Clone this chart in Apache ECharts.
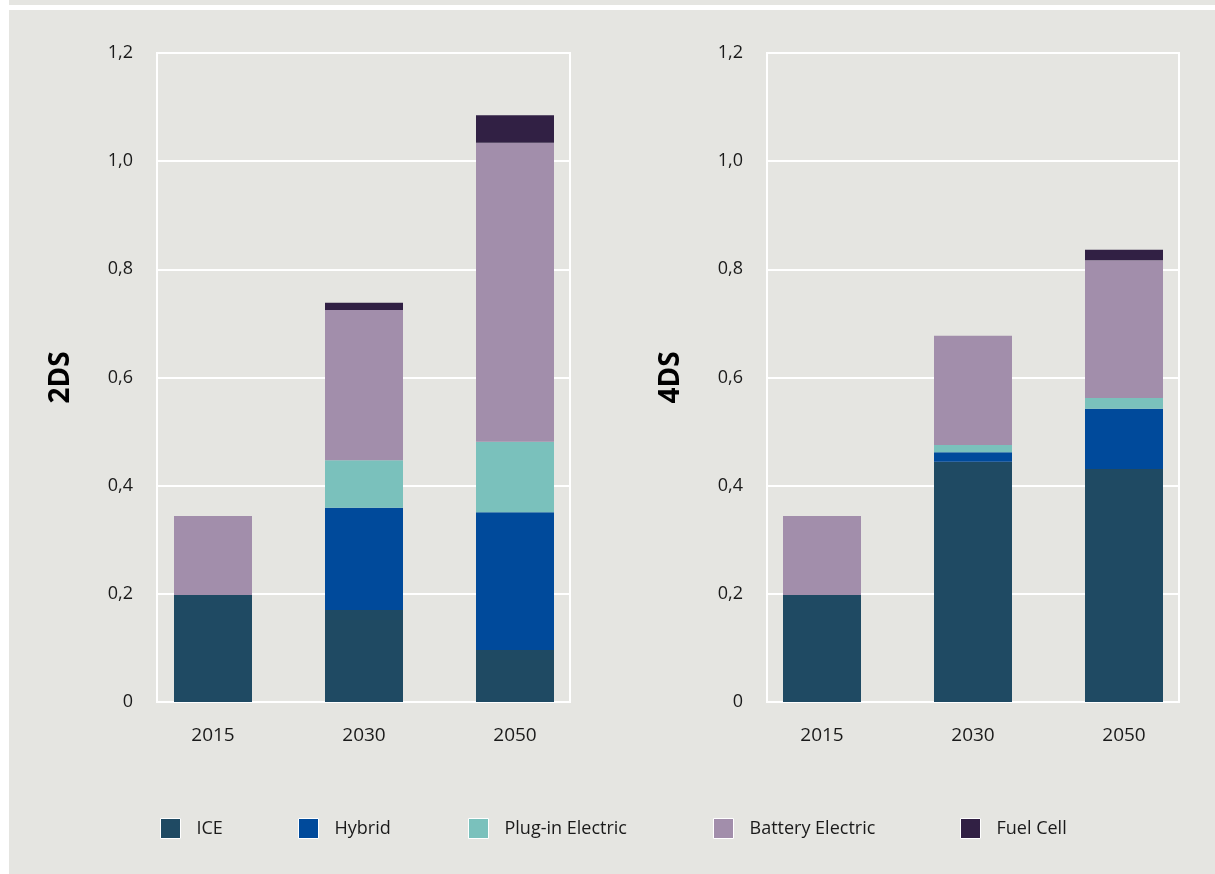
<!DOCTYPE html>
<html>
<head>
<meta charset="utf-8">
<script src="https://cdn.jsdelivr.net/npm/echarts@6/dist/echarts.min.js"></script>
<style>
  html, body { margin: 0; padding: 0; background: #fff; }
  #main { width: 1215px; height: 874px; }
</style>
</head>
<body>
<div id="main"></div>
<script>
var years = ['2015', '2030', '2050'];

// 2DS scenario
var ice2DS = [0.198, 0.170, 0.096];
var hybrid2DS = [0, 0.189, 0.255];
var plugin2DS = [0, 0.088, 0.130];
var battery2DS = [0.146, 0.278, 0.553];
var fuel2DS = [0, 0.013, 0.051];

// 4DS scenario
var ice4DS = [0.198, 0.444, 0.431];
var hybrid4DS = [0, 0.018, 0.111];
var plugin4DS = [0, 0.013, 0.020];
var battery4DS = [0.146, 0.202, 0.255];
var fuel4DS = [0, 0, 0.019];

var names = ['ICE', 'Hybrid', 'Plug-in Electric', 'Battery Electric', 'Fuel Cell'];
var colors = ['#1f4a63', '#004a9b', '#7ac1bc', '#a28eab', '#312044'];
var legendLeft = [155, 293, 463, 708, 955];

var font = '"Open Sans", sans-serif';
var textColor = '#1a1a1a';

var chart = echarts.init(document.getElementById('main'));

function fmt(v) {
  if (v === 0) return '0';
  return v.toFixed(1).replace('.', ',');
}

// frame grid + bar grid per panel
var grids = [
  { left: 157, width: 413, top: 53, bottom: 172, show: true, borderColor: '#fff', borderWidth: 2, backgroundColor: 'transparent' },
  { left: 137.5, width: 453, top: 53, bottom: 172 },
  { left: 767, width: 412, top: 53, bottom: 172, show: true, borderColor: '#fff', borderWidth: 2, backgroundColor: 'transparent' },
  { left: 746.5, width: 453, top: 53, bottom: 172 }
];

function frameX(i) {
  return { gridIndex: i, type: 'value', show: false, min: 0, max: 1 };
}
function barX(i) {
  return {
    gridIndex: i, type: 'category', data: years,
    axisLine: { show: false }, axisTick: { show: false },
    axisLabel: { margin: 24, color: textColor, fontSize: 19, fontFamily: font }
  };
}
function frameY(i, name) {
  return {
    gridIndex: i, type: 'value', min: 0, max: 1.2, interval: 0.2,
    name: name, nameLocation: 'middle', nameGap: 82, nameRotate: 90,
    nameTextStyle: { color: '#000', fontSize: 28, fontWeight: 'bold', fontFamily: font },
    axisLine: { show: false }, axisTick: { show: false },
    splitLine: { lineStyle: { color: '#fff', width: 2 } },
    axisLabel: { margin: 24, color: textColor, fontSize: 18, fontFamily: font, formatter: fmt }
  };
}
function barY(i) {
  return { gridIndex: i, type: 'value', min: 0, max: 1.2, show: false, splitLine: { show: false } };
}

function makeSeries(data, axisIdx, stack) {
  var out = [];
  for (var i = 0; i < data.length; i++) {
    out.push({
      name: names[i],
      type: 'bar',
      stack: stack,
      xAxisIndex: axisIdx,
      yAxisIndex: axisIdx,
      barWidth: 78,
      itemStyle: { color: colors[i] },
      data: data[i]
    });
  }
  return out;
}

var series = makeSeries([ice2DS, hybrid2DS, plugin2DS, battery2DS, fuel2DS], 1, 'a')
  .concat(makeSeries([ice4DS, hybrid4DS, plugin4DS, battery4DS, fuel4DS], 3, 'b'));

var legends = [];
for (var k = 0; k < names.length; k++) {
  legends.push({
    data: [names[k]],
    left: legendLeft[k],
    top: 813,
    itemWidth: 20,
    itemHeight: 20,
    icon: 'rect',
    itemStyle: { borderColor: '#fff', borderWidth: 1 },
    textStyle: { color: textColor, fontSize: 18, fontFamily: font, padding: [0, 0, 0, 11] }
  });
}

var option = {
  animation: false,
  backgroundColor: '#e5e5e1',
  graphic: [
    { type: 'rect', left: 0, top: 0, shape: { width: 9, height: 874 }, style: { fill: '#fff' } },
    { type: 'rect', left: 0, top: 5, shape: { width: 1215, height: 5 }, style: { fill: '#fff' } }
  ],
  grid: grids,
  xAxis: [frameX(0), barX(1), frameX(2), barX(3)],
  yAxis: [frameY(0, '2DS'), barY(1), frameY(2, '4DS'), barY(3)],
  legend: legends,
  series: series
};

chart.setOption(option);
</script>
</body>
</html>
